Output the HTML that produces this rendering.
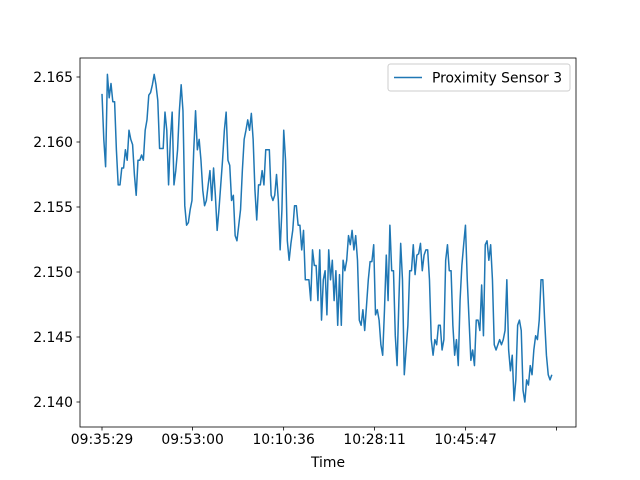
<!DOCTYPE html>
<html><head><meta charset="utf-8"><style>
body{margin:0;background:#fff;}
svg{display:block;font-family:"DejaVu Sans","Liberation Sans",sans-serif;}
</style></head><body>
<svg id="chart" width="640" height="480">
<rect width="640" height="480" fill="#fff"/>
</svg>
<script>
const xTickTimes=[34529,35580,36636,37691,38747,39802];
const xTickLabels=["09:35:29","09:53:00","10:10:36","10:28:11","10:45:47",""];
const yTicks=[2.140,2.145,2.150,2.155,2.160,2.165];
const yTickLabels=["2.140","2.145","2.150","2.155","2.160","2.165"];
const seriesName="Proximity Sensor 3";
const tStart=34529, tEnd=39747;
const values=[2.1637,2.1602,2.1581,2.1652,2.1634,2.1645,2.1631,2.1631,2.1594,2.1567,2.1567,2.1580,2.1580,2.1594,2.1586,2.1609,2.1602,2.1598,2.1575,2.1559,2.1586,2.1586,2.1590,2.1586,2.1609,2.1617,2.1636,2.1638,2.1644,2.1652,2.1644,2.1632,2.1595,2.1595,2.1595,2.1623,2.1609,2.1567,2.1602,2.1623,2.1567,2.1578,2.1594,2.1624,2.1644,2.1624,2.1551,2.1536,2.1538,2.1548,2.1555,2.1594,2.1624,2.1594,2.1602,2.1586,2.1563,2.1551,2.1555,2.1567,2.1578,2.1555,2.1580,2.1559,2.1532,2.1548,2.1567,2.1586,2.1609,2.1623,2.1586,2.1582,2.1555,2.1559,2.1528,2.1524,2.1536,2.1548,2.1578,2.1602,2.1609,2.1617,2.1609,2.1622,2.1602,2.1563,2.1540,2.1567,2.1567,2.1578,2.1567,2.1594,2.1594,2.1594,2.1559,2.1555,2.1559,2.1575,2.1555,2.1517,2.1548,2.1609,2.1586,2.1524,2.1509,2.1522,2.1532,2.1551,2.1551,2.1536,2.1536,2.1517,2.1532,2.1494,2.1494,2.1494,2.1478,2.1517,2.1505,2.1505,2.1478,2.1517,2.1463,2.1494,2.1501,2.1467,2.1517,2.1494,2.1509,2.1478,2.1501,2.1459,2.1498,2.1459,2.1509,2.1501,2.1509,2.1528,2.1521,2.1532,2.1517,2.1528,2.1509,2.1463,2.1459,2.1471,2.1455,2.1474,2.1494,2.1508,2.1508,2.1521,2.1467,2.1471,2.1463,2.1444,2.1436,2.1471,2.1513,2.1478,2.1536,2.1501,2.1501,2.1451,2.1428,2.1478,2.1522,2.1494,2.1421,2.1440,2.1459,2.1501,2.1501,2.1521,2.1498,2.1513,2.1514,2.1522,2.1501,2.1513,2.1517,2.1517,2.1494,2.1448,2.1436,2.1448,2.1444,2.1459,2.1459,2.1440,2.1448,2.1509,2.1521,2.1501,2.1501,2.1459,2.1436,2.1448,2.1428,2.1478,2.1505,2.1521,2.1536,2.1494,2.1463,2.1432,2.1440,2.1428,2.1463,2.1463,2.1455,2.1490,2.1451,2.1521,2.1524,2.1509,2.1521,2.1494,2.1444,2.1440,2.1444,2.1448,2.1444,2.1448,2.1455,2.1494,2.1440,2.1424,2.1436,2.1401,2.1417,2.1459,2.1463,2.1455,2.1409,2.1400,2.1417,2.1413,2.1428,2.1421,2.1440,2.1451,2.1448,2.1463,2.1494,2.1494,2.1463,2.1436,2.1421,2.1417,2.1421];

const NS="http://www.w3.org/2000/svg";
const svg=document.getElementById('chart');
const L=80,R=576,T=58,B=427;
function xs(t){return 102+(t-34529)*91/1055.6;}
function ys(v){return 402-(v-2.140)*13000;}
function mk(tag,attrs,parent){const e=document.createElementNS(NS,tag);for(const k in attrs)e.setAttribute(k,attrs[k]);(parent||svg).appendChild(e);return e;}

// series
const n=values.length;
let d="";
values.forEach((v,i)=>{const t=tStart+(tEnd-tStart)*i/(n-1);d+=(i?"L":"M")+xs(t).toFixed(2)+","+ys(v).toFixed(2);});
const line=mk('path',{d:d,fill:'none',stroke:'#1f77b4','stroke-width':1.5,'stroke-linejoin':'round'});



// axes frame
const frame=mk('rect',{x:L,y:T,width:R-L,height:B-T,fill:'none',stroke:'#000','stroke-width':0.8});



// x ticks
xTickTimes.forEach((t,i)=>{
  const x=xs(t);
  mk('line',{x1:x,x2:x,y1:B,y2:B+3.5,stroke:'#000','stroke-width':0.8});
  const tx=mk('text',{x:x,y:B+17,'text-anchor':'middle','font-size':'13.9px',fill:'#000'});
  tx.textContent=xTickLabels[i];
  
  
});
// y ticks
yTicks.forEach((v,i)=>{
  const y=ys(v);
  mk('line',{x1:L-3.5,x2:L,y1:y,y2:y,stroke:'#000','stroke-width':0.8});
  const tx=mk('text',{x:L-7,y:y+5,'text-anchor':'end','font-size':'13.9px',fill:'#000'});
  tx.textContent=yTickLabels[i];
  
  
});
const xl=mk('text',{x:328,y:467,'text-anchor':'middle','font-size':'13.9px',fill:'#000'});
xl.textContent="Time";



// legend
const lg=mk('g',{});


mk('rect',{x:388,y:64,width:182,height:27,rx:2.5,fill:'#fff','fill-opacity':0.8,stroke:'#ccc','stroke-width':1},lg);
mk('line',{x1:394,x2:422,y1:77.5,y2:77.5,stroke:'#1f77b4','stroke-width':1.5},lg);
const lt=mk('text',{x:432,y:82.5,'font-size':'13.9px',fill:'#000'},lg);
lt.textContent=seriesName;


</script>
</body></html>
